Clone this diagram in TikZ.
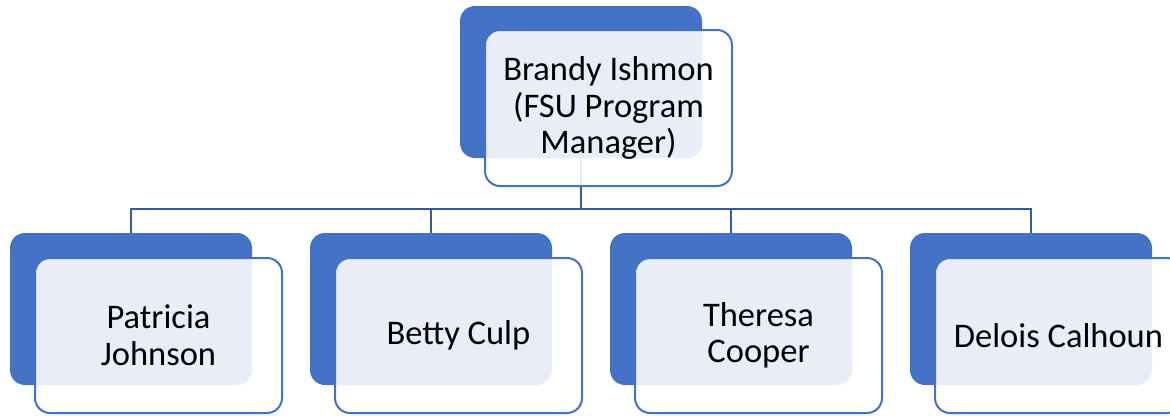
\documentclass[tikz,border=0pt]{standalone}
\usepackage{fontspec}
\setmainfont{Carlito}
\definecolor{backblue}{RGB}{68,114,196}
\definecolor{edgeblue}{RGB}{68,114,196}
\definecolor{linkblue}{RGB}{52,90,165}
\tikzset{
  backbox/.style={fill=backblue, draw=none, rounded corners=15pt, minimum width=242pt, minimum height=152pt, inner sep=0pt},
  frontbox/.style={fill=white, fill opacity=0.88, text opacity=1, draw=edgeblue, draw opacity=1, line width=2pt, rounded corners=15pt, minimum width=247pt, minimum height=155pt, inner sep=0pt, align=center, font=\fontsize{34.5pt}{36.5pt}\selectfont, text=black},
  link/.style={draw=linkblue, line width=2.6pt}
}
\begin{document}
\begin{tikzpicture}[x=1pt,y=-1pt]
\useasboundingbox (0,0) rectangle (1170,415);
% back boxes
\node[backbox] (tb) at (581,82) {};
\node[backbox] (b1) at (131,309) {};
\node[backbox] (b2) at (431,309) {};
\node[backbox] (b3) at (731,309) {};
\node[backbox] (b4) at (1031,309) {};
% connectors
\coordinate (bus) at (581,209);
\draw[link] (tb.south) -- (bus);
\draw[link] (bus) -| (b1.north);
\draw[link] (bus) -| (b2.north);
\draw[link] (bus) -| (b3.north);
\draw[link] (bus) -| (b4.north);
% front boxes
\node[frontbox, minimum height=156pt] (tf) at (608.5,108) {Brandy Ishmon\\(FSU Program\\Manager)};
\node[frontbox] (f1) at (158.5,335.5) {Patricia\\Johnson};
\node[frontbox] (f2) at (458.5,335.5) {Betty Culp};
\node[frontbox] (f3) at (758.5,335.5) {Theresa\\Cooper};
\node[frontbox] (f4) at (1058.5,335.5) {Delois Calhoun};
\end{tikzpicture}
\end{document}
